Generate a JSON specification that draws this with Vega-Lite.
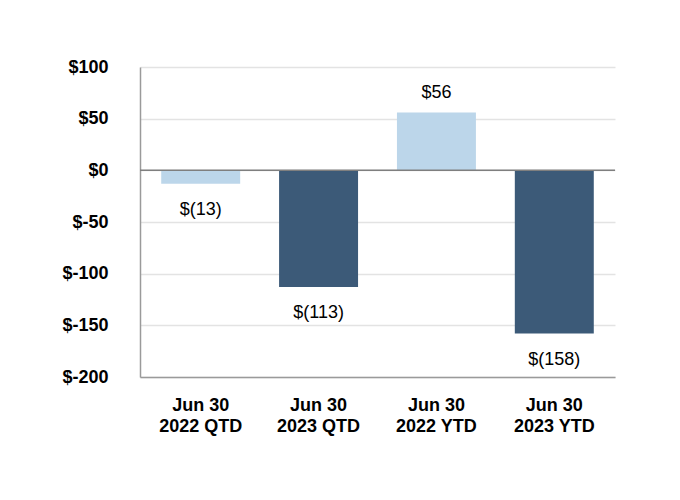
{
  "$schema": "https://vega.github.io/schema/vega-lite/v6.json",
  "autosize": "none",
  "width": 475,
  "height": 310,
  "padding": {"left": 140, "top": 67, "right": 65, "bottom": 123},
  "background": "white",
  "config": {"font": "Liberation Sans", "view": {"stroke": null}},
  "data": {"values": [
    {"period": "Jun 30|2022 QTD", "value": -13, "label": "$(13)", "type": "2022"},
    {"period": "Jun 30|2023 QTD", "value": -113, "label": "$(113)", "type": "2023"},
    {"period": "Jun 30|2022 YTD", "value": 56, "label": "$56", "type": "2022"},
    {"period": "Jun 30|2023 YTD", "value": -158, "label": "$(158)", "type": "2023"}
  ]},
  "encoding": {
    "x": {
      "field": "period", "type": "nominal", "sort": null,
      "scale": {"paddingInner": 0.33, "paddingOuter": 0.18},
      "axis": {
        "title": null, "labelAngle": 0, "labelExpr": "split(datum.label, '|')",
        "labelFont": "Liberation Sans", "labelFontWeight": "bold", "labelFontSize": 18,
        "labelColor": "#000", "labelPadding": 19, "labelLineHeight": 21,
        "ticks": false, "domainColor": "#9a9a9a", "domainWidth": 1.5, "grid": false
      }
    },
    "y": {
      "field": "value", "type": "quantitative",
      "scale": {"domain": [-200, 100], "nice": false},
      "axis": {
        "title": null, "values": [-200, -150, -100, -50, 0, 50, 100],
        "labelExpr": "'$' + datum.value",
        "labelFont": "Liberation Sans", "labelFontWeight": "bold", "labelFontSize": 18,
        "labelColor": "#000", "labelPadding": 32, "ticks": false,
        "domainColor": "#9a9a9a", "domainWidth": 1.5,
        "gridColor": "#e3e3e3", "gridWidth": 1.5
      }
    }
  },
  "layer": [
    {
      "mark": {"type": "bar"},
      "encoding": {
        "color": {"field": "type", "type": "nominal", "legend": null,
          "scale": {"domain": ["2022", "2023"], "range": ["#bcd6ea", "#3c5a78"]}}
      }
    },
    {
      "mark": {"type": "rule", "color": "#7f7f7f", "strokeWidth": 1.5},
      "data": {"values": [{"zero": 0}]},
      "encoding": {"y": {"field": "zero", "type": "quantitative"}, "x": null}
    },
    {
      "transform": [{"filter": "datum.value < 0"}],
      "mark": {"type": "text", "fontSize": 18, "font": "Liberation Sans", "color": "#000", "baseline": "middle", "dy": 26},
      "encoding": {"text": {"field": "label"}}
    },
    {
      "transform": [{"filter": "datum.value >= 0"}],
      "mark": {"type": "text", "fontSize": 18, "font": "Liberation Sans", "color": "#000", "baseline": "middle", "dy": -19},
      "encoding": {"text": {"field": "label"}}
    }
  ]
}
